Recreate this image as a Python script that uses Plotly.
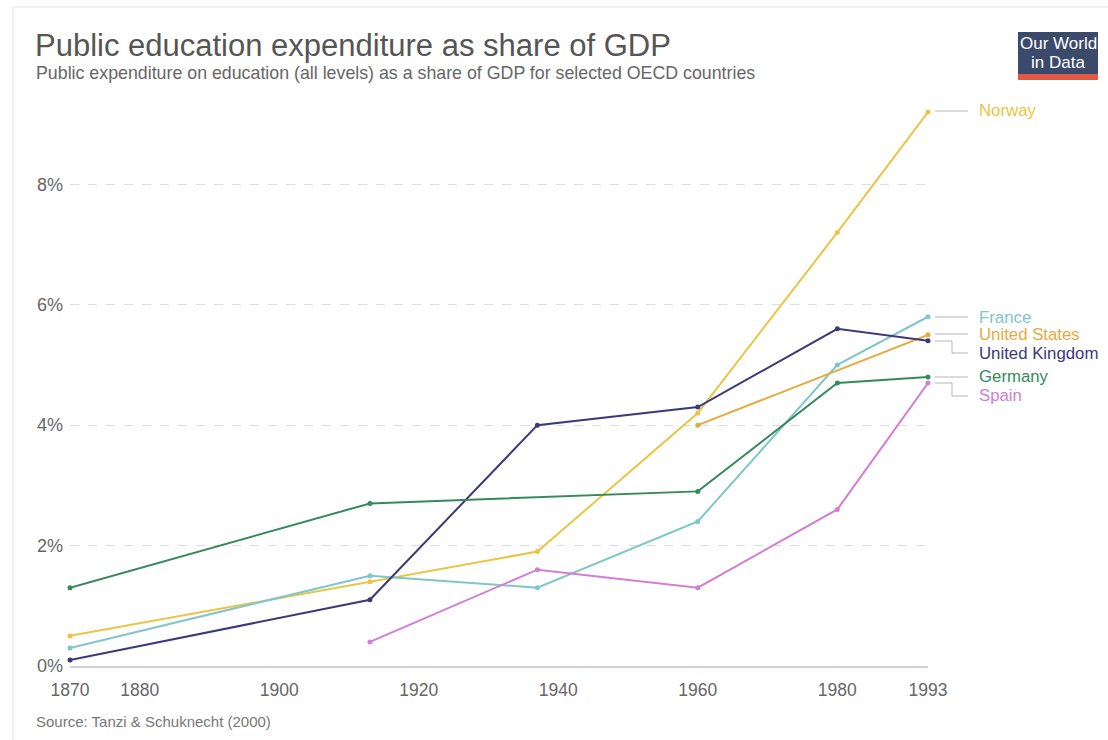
import plotly.graph_objects as go

years = [1870, 1913, 1937, 1960, 1980, 1993]
norway = [0.5, 1.4, 1.9, 4.2, 7.2, 9.2]
france = [0.3, 1.5, 1.3, 2.4, 5.0, 5.8]
us = [None, None, None, 4.0, None, 5.5]
uk = [0.1, 1.1, 4.0, 4.3, 5.6, 5.4]
germany = [1.3, 2.7, None, 2.9, 4.7, 4.8]
spain = [None, 0.4, 1.6, 1.3, 2.6, 4.7]

series = [
    ("Norway", norway, "#ecc443"),
    ("France", france, "#7fc6ca"),
    ("United States", us, "#e8aa3e"),
    ("United Kingdom", uk, "#3d3878"),
    ("Germany", germany, "#358a5c"),
    ("Spain", spain, "#d47dd5"),
]

tick_years = [1870, 1880, 1900, 1920, 1940, 1960, 1980, 1993]
y_ticks = [0, 2, 4, 6, 8]
y_labels = ["0%", "2%", "4%", "6%", "8%"]

W, H = 1108, 740
L, R, T, B = 70, 928, 106, 666


def px(x):
    return (x - L) / (R - L)


def py(y):
    return (B - y) / (B - T)


FONT = "Liberation Sans, Arial, sans-serif"

fig = go.Figure()
for name, vals, col in series:
    xs = [yr for yr, v in zip(years, vals) if v is not None]
    ys = [v for v in vals if v is not None]
    fig.add_trace(go.Scatter(
        x=xs, y=ys, mode="lines+markers", name=name,
        line=dict(color=col, width=2),
        marker=dict(color=col, size=5),
        showlegend=False, cliponaxis=False,
    ))

fig.update_layout(
    width=W, height=H,
    margin=dict(l=L, r=W - R, t=T, b=H - B),
    paper_bgcolor="white", plot_bgcolor="white",
    font=dict(family=FONT, color="#666"),
    xaxis=dict(
        range=[1870, 1993], tickvals=tick_years, ticktext=[str(t) for t in tick_years],
        showgrid=False, zeroline=False, showline=True, linecolor="#d0d0d0", linewidth=2,
        ticks="", tickfont=dict(size=17.5, color="#666"), ticklabelstandoff=7,
    ),
    yaxis=dict(
        range=[0, 9.3], tickvals=y_ticks, ticktext=y_labels,
        showgrid=True, gridcolor="#dddddd", griddash="dash", gridwidth=1,
        zeroline=False, showline=False, ticks="",
        tickfont=dict(size=18, color="#666"), ticklabelstandoff=6,
    ),
)

ann = []
shapes = []

# frame
shapes.append(dict(type="rect", xref="paper", yref="paper",
                   x0=px(13), x1=px(1120), y0=py(7), y1=py(760),
                   line=dict(color="#e2e2e2", width=1), fillcolor="rgba(0,0,0,0)", layer="below"))

ann.append(dict(text="Public education expenditure as share of GDP", x=px(33), y=py(46),
                xref="paper", yref="paper", xanchor="left", yanchor="middle", showarrow=False,
                font=dict(size=31, color="#555", family=FONT)))
ann.append(dict(text="Public expenditure on education (all levels) as a share of GDP for selected OECD countries",
                x=px(34), y=py(73), xref="paper", yref="paper", xanchor="left", yanchor="middle",
                showarrow=False, font=dict(size=17.8, color="#666", family=FONT)))
ann.append(dict(text="Source: Tanzi & Schuknecht (2000)", x=px(34), y=py(721), xref="paper", yref="paper",
                xanchor="left", yanchor="middle", showarrow=False,
                font=dict(size=15, color="#777", family=FONT)))

# logo
shapes.append(dict(type="rect", xref="paper", yref="paper", x0=px(1018), x1=px(1098), y0=py(74), y1=py(32),
                   line=dict(width=0), fillcolor="#3b4a6b"))
shapes.append(dict(type="rect", xref="paper", yref="paper", x0=px(1018), x1=px(1098), y0=py(80), y1=py(74),
                   line=dict(width=0), fillcolor="#e05a45"))
ann.append(dict(text="Our World", x=px(1058), y=py(44), xref="paper", yref="paper",
                xanchor="center", yanchor="middle", showarrow=False,
                font=dict(size=17, color="white", family=FONT)))
ann.append(dict(text="in Data", x=px(1058), y=py(62), xref="paper", yref="paper",
                xanchor="center", yanchor="middle", showarrow=False,
                font=dict(size=17, color="white", family=FONT)))

# end labels with connectors: (name, start_y, label_y, elbow)
label_pos = [
    ("Norway", 111, 111, False),
    ("France", 317, 317, False),
    ("United States", 334, 334, False),
    ("United Kingdom", 341, 353, True),
    ("Germany", 377, 377, False),
    ("Spain", 383, 396, True),
]
colors = {n: c for n, _, c in series}
for name, sy, ly, elbow in label_pos:
    if elbow:
        path = f"M {px(935)} {py(sy)} L {px(952)} {py(sy)} L {px(952)} {py(ly)} L {px(968)} {py(ly)}"
    else:
        path = f"M {px(935)} {py(sy)} L {px(968)} {py(ly)}"
    shapes.append(dict(type="path", xref="paper", yref="paper", path=path,
                       line=dict(color="#b5b5b5", width=1)))
    ann.append(dict(text=name, x=px(977), y=py(ly), xref="paper", yref="paper",
                    xanchor="left", yanchor="middle", showarrow=False,
                    font=dict(size=16.8, color=colors[name], family=FONT)))

fig.update_layout(annotations=ann, shapes=shapes)
fig.write_html("out.html")
